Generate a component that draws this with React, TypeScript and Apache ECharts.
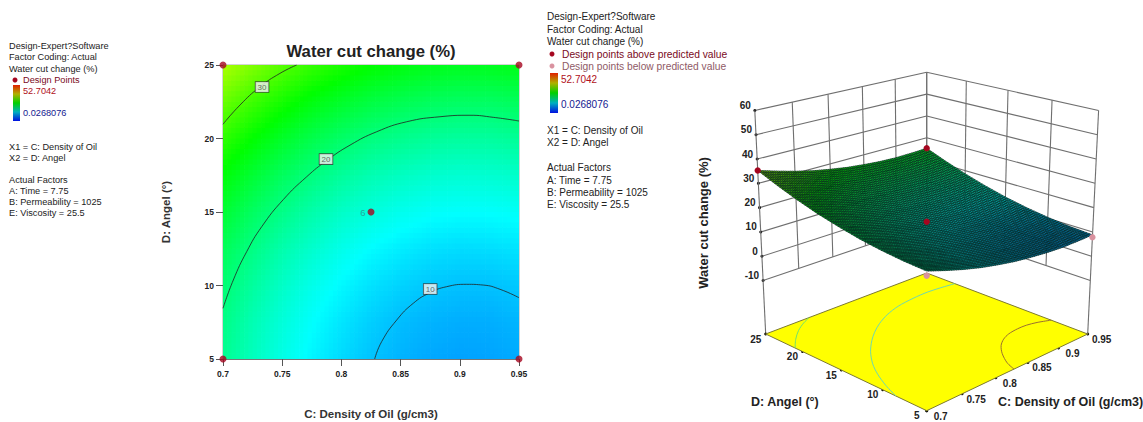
import React, { useEffect, useRef } from "react";
import * as echarts from "echarts";

// ---- data ----
const densityNodes = [0.7, 0.725, 0.75, 0.775, 0.8, 0.825, 0.85, 0.875, 0.9, 0.925, 0.95];
const angleNodes = [5, 7.5, 10, 12.5, 15, 17.5, 20, 22.5, 25];
// rows follow angleNodes, columns follow densityNodes
const waterCut = [
  [18.9, 16.6, 14.5, 12.7, 11.3, 10.1, 9.3, 8.7, 8.4, 8.5, 8.8],
  [19.5, 17.1, 15.1, 13.3, 11.9, 10.7, 9.8, 9.3, 9.0, 9.0, 9.4],
  [20.5, 18.2, 16.1, 14.3, 12.9, 11.7, 10.9, 10.3, 10.0, 10.0, 10.4],
  [21.9, 19.6, 17.5, 15.8, 14.3, 13.1, 12.3, 11.7, 11.4, 11.5, 11.8],
  [23.8, 21.4, 19.4, 17.6, 16.1, 15.0, 14.1, 13.5, 13.3, 13.3, 13.6],
  [26.0, 23.7, 21.6, 19.9, 18.4, 17.2, 16.4, 15.8, 15.5, 15.6, 15.9],
  [28.7, 26.4, 24.3, 22.5, 21.1, 19.9, 19.1, 18.5, 18.2, 18.2, 18.6],
  [31.8, 29.5, 27.4, 25.6, 24.2, 23.0, 22.2, 21.6, 21.3, 21.3, 21.7],
  [35.3, 33.0, 30.9, 29.1, 27.7, 26.5, 25.7, 25.1, 24.8, 24.9, 25.2],
];
const contour10 = [[0.8281, 5], [0.834, 6.18], [0.8467, 7.65], [0.8607, 8.79], [0.8748, 9.51], [0.8889, 9.92], [0.9058, 10.08], [0.9198, 10.03], [0.934, 9.74], [0.95, 9.17]];
const contour20 = [[0.7, 8.45], [0.7087, 10.37], [0.72, 12.3], [0.7327, 14.0], [0.751, 15.85], [0.7707, 17.4], [0.7876, 18.5], [0.8073, 19.55], [0.8298, 20.46], [0.8552, 21.14], [0.8833, 21.48], [0.9086, 21.58], [0.9283, 21.44], [0.95, 21.19]];
const contour30 = [[0.7, 20.97], [0.7144, 22.28], [0.7313, 23.52], [0.7481, 24.43], [0.7622, 25]];
const contourLabels = [[0.733, 23.5, "30"], [0.787, 18.6, "20"], [0.875, 9.76, "10"]];
const designPoints2D = [[0.7, 25, ""], [0.95, 25, ""], [0.7, 5, ""], [0.95, 5, ""], [0.825, 15, "6"]];
const designPoints3D = [[0.7, 25, 35.3, 1], [0.95, 25, 25.2, 1], [0.825, 15, 14.2, 1], [0.95, 5, 7.8, 0], [0.7, 5, 17.2, 0]];
const densityTicks = [0.7, 0.75, 0.8, 0.85, 0.9, 0.95];
const angleTicks = [5, 10, 15, 20, 25];
const cutTicks = [-10, 0, 10, 20, 30, 40, 50, 60];
const titleText = "Water cut change (%)";
const densityName = "C: Density of Oil (g/cm3)";
const angleName = "D: Angel (°)";
const minValue = 0.0268076;
const maxValue = 52.7042;
const leftNotes: [string, number, number, string][] = [
  ["Design-Expert?Software", 9, 46, "#222"],
  ["Factor Coding: Actual", 9, 57, "#222"],
  ["Water cut change (%)", 9, 69, "#222"],
  ["Design Points", 23, 80, "#7a0a1c"],
  ["52.7042", 23, 91, "#b01020"],
  ["0.0268076", 23, 113, "#141a90"],
  ["X1 = C: Density of Oil", 9, 147, "#222"],
  ["X2 = D: Angel", 9, 158, "#222"],
  ["Actual Factors", 9, 180, "#222"],
  ["A: Time = 7.75", 9, 191, "#222"],
  ["B: Permeability = 1025", 9, 202, "#222"],
  ["E: Viscosity = 25.5", 9, 213, "#222"],
];
const rightNotes: [string, number, number, string][] = [
  ["Design-Expert?Software", 547, 16, "#222"],
  ["Factor Coding: Actual", 547, 29, "#222"],
  ["Water cut change (%)", 547, 41, "#222"],
  ["Design points above predicted value", 562, 54, "#7a0a1c"],
  ["Design points below predicted value", 562, 66, "#8f5a66"],
  ["52.7042", 561, 79, "#b01020"],
  ["0.0268076", 561, 104, "#141a90"],
  ["X1 = C: Density of Oil", 547, 130, "#222"],
  ["X2 = D: Angel", 547, 142, "#222"],
  ["Actual Factors", 547, 167, "#222"],
  ["A: Time = 7.75", 547, 180, "#222"],
  ["B: Permeability = 1025", 547, 192, "#222"],
  ["E: Viscosity = 25.5", 547, 204, "#222"],
];

// ---- drawing helpers ----
const FONT = "Liberation Sans";
const RED = "#a5061f";
const PINK = "#d9929f";
const STOPS = [[0, 0, 255], [0, 255, 255], [0, 255, 0], [255, 255, 0], [255, 0, 0]];

function ramp(z: number): number[] {
  const t = Math.max(0, Math.min(0.9999, (z - minValue) / (maxValue - minValue))) * 4;
  const k = Math.floor(t);
  const f = t - k;
  return STOPS[k].map((c, n) => c + (STOPS[k + 1][n] - c) * f);
}
const rgb = (c: number[], m = 1) => `rgb(${Math.round(c[0] * m)},${Math.round(c[1] * m)},${Math.round(c[2] * m)})`;

// shading inside one table cell
function shade(i: number, j: number, fx: number, fy: number) {
  const a = waterCut[j][i], b = waterCut[j][i + 1], c = waterCut[j + 1][i], d = waterCut[j + 1][i + 1];
  return (a * (1 - fx) + b * fx) * (1 - fy) + (c * (1 - fx) + d * fx) * fy;
}

// the 3D view
const CX = 926.7, CY = 334, A = 161, B = 67.96, K = 0.1139, T = 0.000736, H = 2.43, Z0 = -32;
const toU = (c: number) => (c - 0.7) / 0.25;
const toV = (d: number) => (d - 5) / 20;
function project(u: number, v: number, z: number): number[] {
  const s = u + v - 1;
  const w = 1 + K * s;
  const h = z - Z0;
  return [CX + ((A * (u - v)) / w) * (1 + T * h), CY - (B * s) / w - (H * h) / w];
}

const cells: number[][] = [];
for (let j = 0; j < angleNodes.length - 1; j++)
  for (let i = 0; i < densityNodes.length - 1; i++) cells.push([densityNodes[i], angleNodes[j], i, j]);
const cellsBackToFront: number[][] = [];
for (let j = angleNodes.length - 2; j >= 0; j--)
  for (let i = densityNodes.length - 2; i >= 0; i--) cellsBackToFront.push([densityNodes[i], angleNodes[j], i, j]);

const SUB2D = 7;
const SUB3D = 8;
const LINE = "#6f6f6f";

function buildOption() {
  const noteText = (n: [string, number, number, string], size: number) => ({
    type: "text",
    x: n[1],
    y: n[2],
    silent: true,
    style: { text: n[0], fill: n[3], font: `${size}px "${FONT}"`, verticalAlign: "middle", align: "left" },
  });
  const barFill = () =>
    new echarts.graphic.LinearGradient(0, 0, 0, 1, [
      { offset: 0, color: "#e02000" },
      { offset: 0.25, color: "#b0b000" },
      { offset: 0.5, color: "#00d000" },
      { offset: 0.75, color: "#00b0c0" },
      { offset: 1, color: "#0010e0" },
    ]);
  const graphic: any[] = [
    ...leftNotes.map((n) => noteText(n, 9.2)),
    ...rightNotes.map((n) => noteText(n, n[1] === 562 ? 10.25 : 10)),
    { type: "rect", shape: { x: 13, y: 85, width: 7, height: 36 }, style: { fill: barFill() } },
    { type: "rect", shape: { x: 550, y: 73, width: 8, height: 40 }, style: { fill: barFill() } },
    { type: "circle", shape: { cx: 15, cy: 80, r: 2.5 }, style: { fill: RED } },
    { type: "circle", shape: { cx: 552, cy: 54, r: 2.5 }, style: { fill: RED } },
    { type: "circle", shape: { cx: 552, cy: 66, r: 2.5 }, style: { fill: PINK } },
    {
      type: "text",
      x: 703,
      y: 223,
      rotation: Math.PI / 2,
      style: { text: titleText, fill: "#222", font: `bold 13px "${FONT}"`, align: "center", verticalAlign: "middle" },
    },
    {
      type: "text",
      x: 751,
      y: 402,
      style: { text: angleName, fill: "#222", font: `bold 12.5px "${FONT}"`, align: "left", verticalAlign: "middle" },
    },
    {
      type: "text",
      x: 998,
      y: 402,
      style: { text: densityName, fill: "#222", font: `bold 12.5px "${FONT}"`, align: "left", verticalAlign: "middle" },
    },
  ];

  const lineSeries = (name: string, data: number[][]) => ({
    type: "line",
    name,
    data,
    smooth: 0.5,
    showSymbol: false,
    silent: true,
    z: 4,
    lineStyle: { color: "#222", width: 0.8 },
  });

  const tick3d = (p: number[]) => ({ type: "circle", shape: { cx: p[0], cy: p[1], r: 1.5 }, style: { fill: "#111" } });
  const label3d = (text: string, x: number, y: number, align = "center") => ({
    type: "text",
    x,
    y,
    style: { text, fill: "#222", font: `bold 10px "${FONT}"`, align, verticalAlign: "middle" },
  });
  const seg = (a: number[], b: number[]) => ({
    type: "line",
    shape: { x1: a[0], y1: a[1], x2: b[0], y2: b[1] },
    style: { stroke: LINE, lineWidth: 1.1 },
  });
  const floorContour = (name: string, pts: number[][], color: string) => ({
    type: "custom",
    name,
    coordinateSystem: "none",
    silent: true,
    z: 6,
    data: [0],
    renderItem: () => ({
      type: "polyline",
      shape: { points: pts.map((p) => project(toU(p[0]), toV(p[1]), Z0)), smooth: 0.3 },
      style: { stroke: color, lineWidth: 1, fill: "none" },
    }),
  });

  const series: any[] = [
    // contour panel
    {
      type: "custom",
      name: "contour fill",
      coordinateSystem: "cartesian2d",
      xAxisIndex: 0,
      yAxisIndex: 0,
      silent: true,
      clip: true,
      z: 2,
      encode: { x: 0, y: 1 },
      data: cells,
      renderItem: (_: any, api: any) => {
        const i = api.value(2);
        const j = api.value(3);
        const p0 = api.coord([densityNodes[i], angleNodes[j]]);
        const p1 = api.coord([densityNodes[i + 1], angleNodes[j + 1]]);
        const dx = (p1[0] - p0[0]) / SUB2D;
        const dy = (p1[1] - p0[1]) / SUB2D;
        const children: any[] = [];
        for (let a = 0; a < SUB2D; a++)
          for (let b = 0; b < SUB2D; b++) {
            const y = p0[1] + dy * (b + 1);
            children.push({
              type: "rect",
              shape: { x: p0[0] + dx * a, y: y - 0.7, width: dx + 0.7, height: -dy + 0.7 },
              style: { fill: rgb(ramp(shade(i, j, (a + 0.5) / SUB2D, (b + 0.5) / SUB2D))) },
            });
          }
        return { type: "group", children };
      },
    },
    lineSeries("10", contour10),
    lineSeries("20", contour20),
    lineSeries("30", contour30),
    {
      type: "scatter",
      name: "contour labels",
      data: contourLabels,
      symbolSize: 1,
      silent: true,
      z: 5,
      itemStyle: { color: "transparent" },
      label: {
        show: true,
        position: "inside",
        formatter: (p: any) => p.data[2],
        fontFamily: FONT,
        fontSize: 8,
        color: "#444",
        backgroundColor: "#f4f4f4",
        borderColor: "#333",
        borderWidth: 0.8,
        padding: [1, 2],
      },
    },
    {
      type: "scatter",
      name: "design points",
      data: designPoints2D,
      symbolSize: 7,
      clip: false,
      silent: true,
      z: 6,
      itemStyle: { color: RED },
      label: {
        show: true,
        position: "left",
        distance: 2,
        formatter: (p: any) => p.data[2],
        fontFamily: FONT,
        fontSize: 9.5,
        color: "#2f8f8f",
      },
    },
    // 3D walls
    {
      type: "custom",
      name: "cut grid",
      coordinateSystem: "none",
      silent: true,
      z: 3,
      data: cutTicks,
      renderItem: (_: any, api: any) => {
        const z = api.value(0);
        const l = project(0, 1, z);
        const b = project(1, 1, z);
        const r = project(1, 0, z);
        return {
          type: "group",
          children: [seg(l, b), seg(b, r), tick3d(l), label3d(String(z), l[0] - 4, l[1] - 5, "right")],
        };
      },
    },
    {
      type: "custom",
      name: "density grid",
      coordinateSystem: "none",
      silent: true,
      z: 3,
      data: densityTicks,
      renderItem: (_: any, api: any) => {
        const c = api.value(0);
        const u = toU(c);
        const bottom = u === 0 ? Z0 : -10;
        const floorP = project(u, 0, Z0);
        return {
          type: "group",
          children: [seg(project(u, 1, 60), project(u, 1, bottom)), tick3d(floorP), label3d(String(c), floorP[0] + 14, floorP[1] + 5.5)],
        };
      },
    },
    {
      type: "custom",
      name: "angle grid",
      coordinateSystem: "none",
      silent: true,
      z: 3,
      data: angleTicks,
      renderItem: (_: any, api: any) => {
        const d = api.value(0);
        const v = toV(d);
        const bottom = v === 0 ? Z0 : -10;
        const floorP = project(0, v, Z0);
        return {
          type: "group",
          children: [seg(project(1, v, 60), project(1, v, bottom)), tick3d(floorP), label3d(String(d), floorP[0] - 10, floorP[1] + 5)],
        };
      },
    },
    {
      type: "custom",
      name: "floor",
      coordinateSystem: "none",
      silent: true,
      z: 5,
      data: [0],
      renderItem: () => ({
        type: "polygon",
        shape: { points: [project(0, 0, Z0), project(1, 0, Z0), project(1, 1, Z0), project(0, 1, Z0)] },
        style: { fill: "#ffff00", stroke: "#7d7a30", lineWidth: 1 },
      }),
    },
    floorContour("floor 10", contour10, "#9a7030"),
    floorContour("floor 20", contour20, "#6fd8b0"),
    floorContour("floor 30", contour30, "#70e070"),
    // 3D surface
    {
      type: "custom",
      name: "surface",
      coordinateSystem: "none",
      silent: true,
      z: 7,
      data: cellsBackToFront,
      renderItem: (_: any, api: any) => {
        const i = api.value(2);
        const j = api.value(3);
        const u0 = toU(densityNodes[i]);
        const u1 = toU(densityNodes[i + 1]);
        const v0 = toV(angleNodes[j]);
        const v1 = toV(angleNodes[j + 1]);
        const at = (a: number, b: number) =>
          project(u0 + ((u1 - u0) * a) / SUB3D, v0 + ((v1 - v0) * b) / SUB3D, shade(i, j, a / SUB3D, b / SUB3D));
        const children: any[] = [];
        for (let b = SUB3D - 1; b >= 0; b--)
          for (let a = SUB3D - 1; a >= 0; a--) {
            const z = shade(i, j, (a + 0.5) / SUB3D, (b + 0.5) / SUB3D);
            children.push({
              type: "polygon",
              shape: { points: [at(a, b), at(a + 1, b), at(a + 1, b + 1), at(a, b + 1)] },
              style: { fill: rgb(ramp(z), 0.68), stroke: "rgba(0,30,25,0.8)", lineWidth: 0.7 },
            });
          }
        return { type: "group", children };
      },
    },
    {
      type: "custom",
      name: "design points 3D",
      coordinateSystem: "none",
      silent: true,
      z: 8,
      data: designPoints3D,
      renderItem: (_: any, api: any) => {
        const p = project(toU(api.value(0)), toV(api.value(1)), api.value(2));
        return {
          type: "circle",
          shape: { cx: p[0], cy: p[1], r: 3.2 },
          style: { fill: api.value(3) ? RED : PINK },
        };
      },
    },
  ];

  return {
    animation: false,
    backgroundColor: "#fff",
    title: {
      text: titleText,
      left: 366,
      top: 38,
      textAlign: "center",
      textStyle: { fontFamily: FONT, fontSize: 16.7, fontWeight: "bold", color: "#222" },
    },
    grid: {
      left: 223,
      top: 65,
      width: 296,
      height: 294,
      outerBoundsMode: "none",
      show: true,
      borderColor: "#a8a8a8",
      borderWidth: 1,
      backgroundColor: "transparent",
    },
    xAxis: {
      type: "value",
      min: 0.7,
      max: 0.95,
      interval: 0.05,
      name: densityName,
      nameLocation: "middle",
      nameGap: 49,
      nameTextStyle: { fontFamily: FONT, fontSize: 11.5, fontWeight: "bold", color: "#333" },
      splitLine: { show: false },
      axisLine: { lineStyle: { color: "#777" } },
      axisTick: { length: 7, lineStyle: { color: "#555" } },
      axisLabel: { fontFamily: FONT, fontSize: 8.5, fontWeight: "bold", color: "#222", margin: 10 },
    },
    yAxis: {
      type: "value",
      min: 5,
      max: 25,
      interval: 5,
      name: angleName,
      nameLocation: "middle",
      nameGap: 51,
      nameTextStyle: { fontFamily: FONT, fontSize: 11.5, fontWeight: "bold", color: "#333" },
      splitLine: { show: false },
      axisLine: { lineStyle: { color: "#777" } },
      axisTick: { length: 7, lineStyle: { color: "#555" } },
      axisLabel: { fontFamily: FONT, fontSize: 8.5, fontWeight: "bold", color: "#222", margin: 9 },
    },
    graphic,
    series,
  };
}

export default function App() {
  const ref = useRef<HTMLDivElement>(null);
  useEffect(() => {
    const chart = echarts.init(ref.current!, undefined, { renderer: "svg" });
    chart.setOption(buildOption() as any);
    return () => chart.dispose();
  }, []);
  return <div ref={ref} style={{ position: "fixed", left: 0, top: 0, width: 1143, height: 422, background: "#fff" }} />;
}
